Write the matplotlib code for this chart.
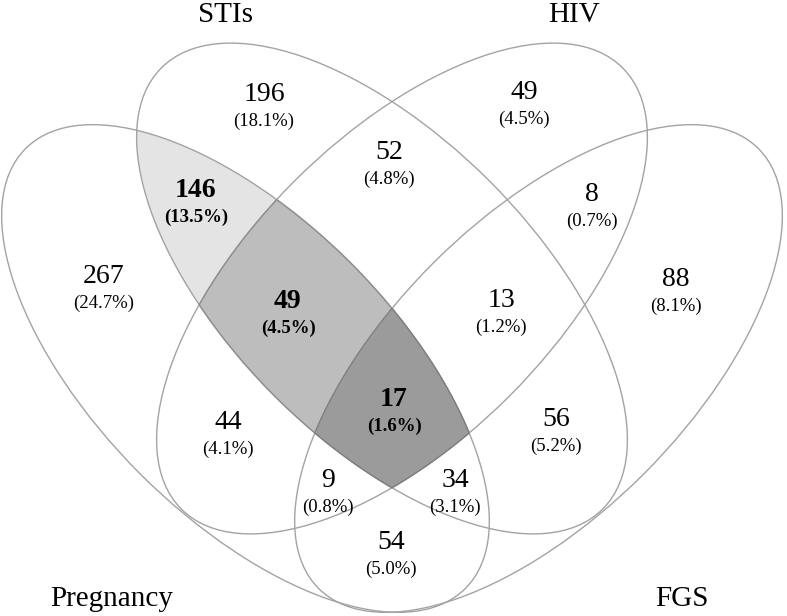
import numpy as np
import matplotlib
matplotlib.use("Agg")
import matplotlib.pyplot as plt
from matplotlib.patches import Ellipse, Polygon

# -------------------------
# data
# -------------------------
set_names = ["Pregnancy", "STIs", "HIV", "FGS"]
regions = ["P", "S", "H", "F", "PS", "SH", "HF", "PSH", "SHF", "PSHF", "PH", "SF", "PHF", "PSF", "PF"]
counts = [267, 196, 49, 88, 146, 52, 8, 49, 13, 17, 44, 56, 9, 34, 54]
percents = ["24.7", "18.1", "4.5", "8.1", "13.5", "4.8", "0.7", "4.5", "1.2", "1.6", "4.1", "5.2", "0.8", "3.1", "5.0"]
highlighted = ["PS", "PSH", "PSHF"]

# -------------------------
# layout (pixel coords, y down)
# -------------------------
label_xy = {"P": (104, 274), "S": (264, 92), "H": (524, 90), "F": (676, 277),
            "PS": (196, 188), "SH": (389, 150), "HF": (592, 192), "PSH": (288, 299),
            "SHF": (501, 298), "PSHF": (394, 397), "PH": (228, 420), "SF": (556, 417),
            "PHF": (328, 478), "PSF": (455, 478), "PF": (391, 540)}
name_xy = [(112, 606), (226, 22), (574, 22), (682, 606)]

# ellipses: centre x, centre y, semi-major, semi-minor, angle (deg)
ell = {
    "P": (245.5, 368.5, 311, 149, 45),
    "F": (538.5, 368.5, 311, 149, -45),
    "S": (382.0, 288.5, 312, 152, 45),
    "H": (402.0, 288.5, 312, 152, -45),
}


def ellipse_poly(e, n=360):
    cx, cy, a, b, ang = e
    t = np.linspace(0, 2 * np.pi, n, endpoint=False)
    th = np.radians(ang)
    x = a * np.cos(t) * np.cos(th) - b * np.sin(t) * np.sin(th) + cx
    y = a * np.cos(t) * np.sin(th) + b * np.sin(t) * np.cos(th) + cy
    return np.column_stack([x, y])


def clip_poly(subj, clip):
    # Sutherland-Hodgman, clip polygon is convex
    area = np.sum(clip[:, 0] * np.roll(clip[:, 1], -1) - np.roll(clip[:, 0], -1) * clip[:, 1])
    if area < 0:
        clip = clip[::-1]
    out = [tuple(p) for p in subj]
    n = len(clip)
    for i in range(n):
        ax_, ay_ = clip[i]
        bx_, by_ = clip[(i + 1) % n]
        inp, out = out, []
        if not inp:
            break
        cr = lambda p: (bx_ - ax_) * (p[1] - ay_) - (by_ - ay_) * (p[0] - ax_)
        s = inp[-1]
        for e in inp:
            ce, cs = cr(e), cr(s)
            if ce >= 0:
                if cs < 0:
                    t = cs / (cs - ce)
                    out.append((s[0] + t * (e[0] - s[0]), s[1] + t * (e[1] - s[1])))
                out.append(e)
            elif cs >= 0:
                t = cs / (cs - ce)
                out.append((s[0] + t * (e[0] - s[0]), s[1] + t * (e[1] - s[1])))
            s = e
    return np.array(out)


def intersect(keys):
    poly = ellipse_poly(ell[keys[0]])
    for k in keys[1:]:
        poly = clip_poly(poly, ellipse_poly(ell[k]))
    return poly


plt.rcParams['font.family'] = ['Liberation Serif', 'DejaVu Serif']
fig = plt.figure(figsize=(7.87, 6.16), dpi=100)
ax = fig.add_axes([0, 0, 1, 1])
ax.set_xlim(0, 787)
ax.set_ylim(616, 0)
ax.axis("off")

# shaded intersections
ax.add_patch(Polygon(intersect("PS"), closed=True, fc="#e4e4e4", ec="none"))
ax.add_patch(Polygon(intersect("PSF"), closed=True, fc="white", ec="none"))
ax.add_patch(Polygon(intersect("PSH"), closed=True, fc="#bdbdbd", ec="none"))
ax.add_patch(Polygon(intersect("PSHF"), closed=True, fc="#9b9b9b", ec="none"))

for k in ["P", "S", "H", "F"]:
    cx, cy, a, b, ang = ell[k]
    ax.add_patch(Ellipse((cx, cy), 2 * a, 2 * b, angle=ang, fc="none", ec="#a3a3a3", lw=1.0))

# darker rims on the shaded cells
ax.add_patch(Polygon(intersect("PSH"), closed=True, fc="none", ec="#8e8e8e", lw=0.9))
ax.add_patch(Polygon(intersect("PSHF"), closed=True, fc="none", ec="#7e7e7e", lw=0.9))

for r, c, pc in zip(regions, counts, percents):
    x, y = label_xy[r]
    w = "bold" if r in highlighted else "normal"
    ax.text(x, y + 9, str(c), fontsize=20, fontweight=w, ha="center", va="baseline")
    ax.text(x, y + 34, "(" + pc + "%)", fontsize=13.5, fontweight=w, ha="center", va="baseline")

for name, (x, y) in zip(set_names, name_xy):
    ax.text(x, y, name, fontsize=21, ha="center", va="baseline")

fig.savefig("out.png", dpi=100)
